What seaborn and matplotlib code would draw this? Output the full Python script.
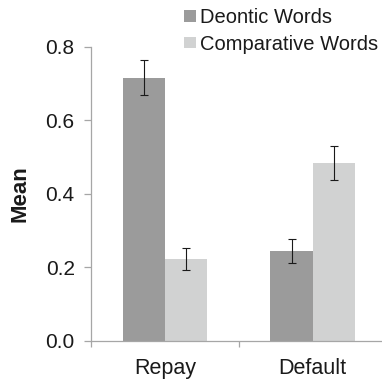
import matplotlib
matplotlib.use("Agg")
import matplotlib.pyplot as plt
import matplotlib.ticker as mticker
import pandas as pd
import seaborn as sns

# Mean scores per condition, with standard-error half-widths
categories = ["Repay", "Default"]
series_names = ["Deontic Words", "Comparative Words"]
deontic_mean = [0.716, 0.245]
comparative_mean = [0.223, 0.485]
deontic_err = [0.048, 0.032]
comparative_err = [0.029, 0.046]
y_ticks = [0.0, 0.2, 0.4, 0.6, 0.8]

colors = ["#9b9b9b", "#d1d2d2"]
axis_gray = "#a6a6a6"
text_color = "#1a1a1a"

sns.set_theme(style="white")
plt.rcParams["font.family"] = ["Liberation Sans", "DejaVu Sans"]

df = pd.DataFrame({
    "Condition": categories * 2,
    "Series": [series_names[0]] * 2 + [series_names[1]] * 2,
    "Mean": deontic_mean + comparative_mean,
})

fig = plt.figure(figsize=(3.82, 3.81), dpi=100)
ax = fig.add_axes([91 / 382, 1 - 341 / 381, 295.4 / 382, 294.3 / 381])

sns.barplot(data=df, x="Condition", y="Mean", hue="Series", order=categories,
            hue_order=series_names, palette=colors, width=0.57, errorbar=None,
            saturation=1, ax=ax, linewidth=0)

# Error bars on each bar: left bar of a group is Deontic, right is Comparative
err_lookup = {}
for i in range(len(categories)):
    err_lookup[(i, 0)] = deontic_err[i]
    err_lookup[(i, 1)] = comparative_err[i]
for p in ax.patches:
    if p.get_height() <= 0:
        continue
    cx = p.get_x() + p.get_width() / 2
    cat_idx = int(round(cx))
    hue_idx = 0 if cx < cat_idx else 1
    ax.errorbar(cx, p.get_height(), yerr=err_lookup[(cat_idx, hue_idx)],
                fmt="none", ecolor=text_color, elinewidth=0.8, capsize=3,
                capthick=0.8, zorder=5)

ax.set_xlim(-0.5, 1.5)
ax.set_ylim(0, 0.8)
ax.set_yticks(y_ticks)
ax.yaxis.set_major_formatter(mticker.FormatStrFormatter("%.1f"))

for side in ["top", "right"]:
    ax.spines[side].set_visible(False)
for side in ["left", "bottom"]:
    ax.spines[side].set_color(axis_gray)
    ax.spines[side].set_linewidth(0.9)

ax.tick_params(axis="y", direction="out", length=4.7, width=0.9, color=axis_gray,
               labelsize=15, pad=7, left=True, labelcolor=text_color)
ax.set_xticks([0, 1])
ax.set_xticklabels(categories)
ax.set_xticks([-0.5, 0.5, 1.5], minor=True)
ax.tick_params(axis="x", which="major", length=0, labelsize=15.5, pad=12.5,
               labelcolor=text_color)
ax.tick_params(axis="x", which="minor", direction="out", length=4.5, width=0.9,
               color=axis_gray, bottom=True)

ax.set_xlabel("")
ax.set_ylabel("Mean", fontsize=16, fontweight="bold", color=text_color)
ax.yaxis.set_label_coords(-0.205, 0.5)

handles, labels = ax.get_legend_handles_labels()
ax.legend(handles, labels, loc="upper left", bbox_to_anchor=(184 / 382, 1 - 8 / 381),
          bbox_transform=fig.transFigure, frameon=False, fontsize=14.5,
          handlelength=0.6, handleheight=0.5, handletextpad=0.17,
          labelspacing=0.38, borderpad=0, borderaxespad=0, labelcolor=text_color)

fig.savefig("out.png", dpi=100)
